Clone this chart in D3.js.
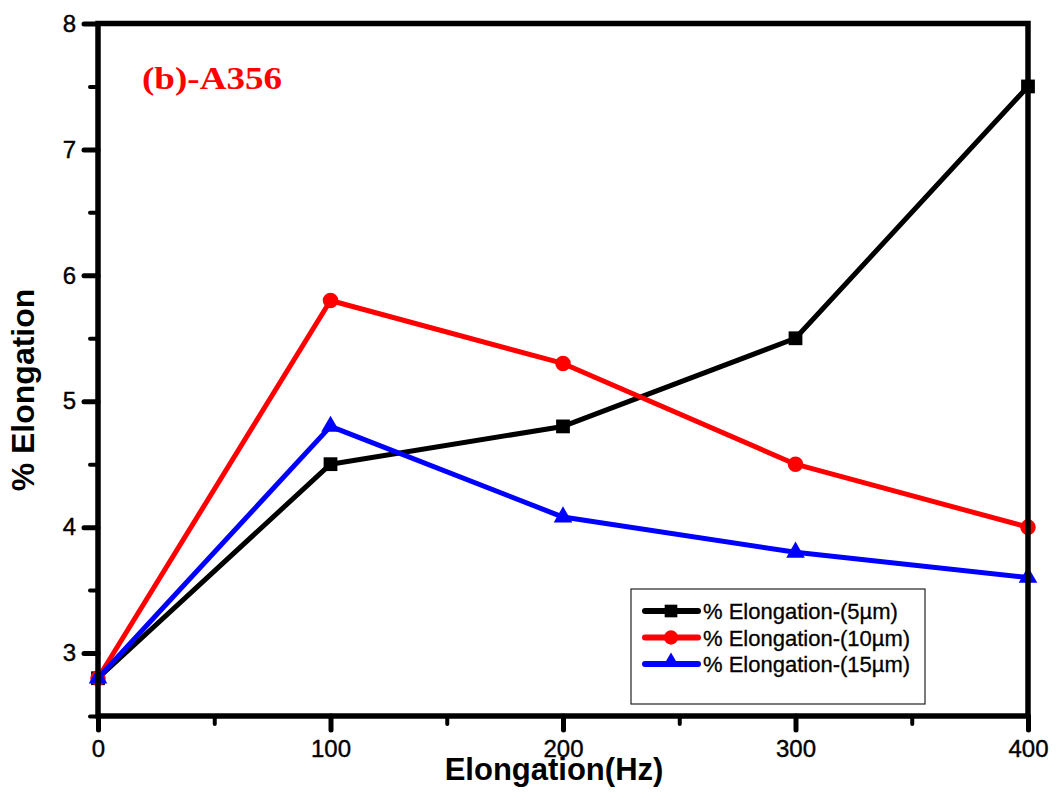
<!DOCTYPE html>
<html>
<head>
<meta charset="utf-8">
<script src="https://cdn.jsdelivr.net/npm/d3@7"></script>
<style>
  body { margin: 0; background: #fff; }
  svg { display: block; }
</style>
</head>
<body>
<div id="chart"></div>
<script>
// data
var freq = [0, 100, 200, 300, 400];
var elong5 = [2.8, 4.5, 4.8, 5.5, 7.5];
var elong10 = [2.8, 5.8, 5.3, 4.5, 4.0];
var elong15 = [2.8, 4.8, 4.08, 3.8, 3.6];
var seriesNames = ["% Elongation-(5\u00b5m)", "% Elongation-(10\u00b5m)", "% Elongation-(15\u00b5m)"];
var seriesColors = ["#000000", "#ff0000", "#0000ff"];
var seriesShapes = [d3.symbolSquare, d3.symbolCircle, d3.symbolTriangle];
var xTicks = [0, 100, 200, 300, 400];
var xMinor = [50, 150, 250, 350];
var yTicks = [3, 4, 5, 6, 7, 8];
var yMinor = [2.5, 3.5, 4.5, 5.5, 6.5, 7.5];

var width = 1056, height = 792;
var plotLeft = 98, plotRight = 1028, plotTop = 23.5, plotBottom = 716;

var svg = d3.select("#chart")
    .append("svg")
    .attr("width", width)
    .attr("height", height);

var x = d3.scaleLinear().domain([0, 400]).range([plotLeft, plotRight]);
var y = d3.scaleLinear().domain([2.5, 8]).range([plotBottom, plotTop]);

var series = [elong5, elong10, elong15];

var line = d3.line()
    .x(function (d, i) { return x(freq[i]); })
    .y(function (d) { return y(d); });

// lines and markers
series.forEach(function (s, k) {
    svg.append("path")
        .datum(s)
        .attr("d", line)
        .attr("fill", "none")
        .attr("stroke", seriesColors[k])
        .attr("stroke-width", 5)
        .attr("stroke-linejoin", "round");

    svg.selectAll(".m" + k)
        .data(s)
        .enter()
        .append("path")
        .attr("class", "m" + k)
        .attr("transform", function (d, i) { return "translate(" + x(freq[i]) + "," + y(d) + ")"; })
        .attr("d", d3.symbol().type(seriesShapes[k]).size(k == 2 ? 150 : 190))
        .attr("fill", seriesColors[k]);
});

// axes
function styleAxis(g, w) {
    g.select(".domain").remove();
    g.selectAll(".tick line")
        .attr("stroke", "#000")
        .attr("stroke-width", w)
        .attr("stroke-linecap", "round");
    g.selectAll(".tick text")
        .attr("fill", "#000")
        .attr("stroke", "#000")
        .attr("stroke-width", 0.4)
        .style("font-family", "Arial, 'Liberation Sans', sans-serif")
        .style("font-size", "24px");
}

svg.append("g")
    .attr("transform", "translate(0," + plotBottom + ")")
    .call(d3.axisBottom(x).tickValues(xMinor).tickSize(8).tickFormat(""))
    .call(styleAxis, 4);

svg.append("g")
    .attr("transform", "translate(0," + plotBottom + ")")
    .call(d3.axisBottom(x).tickValues(xTicks).tickSize(14).tickPadding(10).tickFormat(d3.format("d")))
    .call(styleAxis, 5);

svg.append("g")
    .attr("transform", "translate(" + plotLeft + ",0)")
    .call(d3.axisLeft(y).tickValues(yMinor).tickSize(8).tickFormat(""))
    .call(styleAxis, 4);

svg.append("g")
    .attr("transform", "translate(" + plotLeft + ",0)")
    .call(d3.axisLeft(y).tickValues(yTicks).tickSize(14).tickPadding(8).tickFormat(d3.format("d")))
    .call(styleAxis, 5);

// frame
svg.append("rect")
    .attr("x", plotLeft)
    .attr("y", plotTop)
    .attr("width", plotRight - plotLeft)
    .attr("height", plotBottom - plotTop)
    .attr("fill", "none")
    .attr("stroke", "#000")
    .attr("stroke-width", 5.5);

// axis titles
svg.append("text")
    .attr("x", 554)
    .attr("y", 780)
    .attr("text-anchor", "middle")
    .style("font-family", "Arial, 'Liberation Sans', sans-serif")
    .style("font-weight", "bold")
    .style("font-size", "31px")
    .text("Elongation(Hz)");

svg.append("text")
    .attr("transform", "translate(34,390) rotate(-90)")
    .attr("text-anchor", "middle")
    .style("font-family", "Arial, 'Liberation Sans', sans-serif")
    .style("font-weight", "bold")
    .style("font-size", "32px")
    .text("% Elongation");

// panel label
svg.append("text")
    .attr("x", 142)
    .attr("y", 89)
    .attr("fill", "#ff0000")
    .attr("textLength", 140)
    .attr("lengthAdjust", "spacingAndGlyphs")
    .style("font-family", "'Liberation Serif', 'Times New Roman', serif")
    .style("font-weight", "bold")
    .style("font-size", "32px")
    .text("(b)-A356");

// legend
var legend = svg.append("g");
legend.append("rect")
    .attr("x", 631)
    .attr("y", 589)
    .attr("width", 294)
    .attr("height", 115)
    .attr("fill", "#fff")
    .attr("stroke", "#222")
    .attr("stroke-width", 1.2);

seriesNames.forEach(function (name, k) {
    var ly = 611 + k * 26.5;
    legend.append("line")
        .attr("x1", 645).attr("x2", 698)
        .attr("y1", ly).attr("y2", ly)
        .attr("stroke", seriesColors[k])
        .attr("stroke-width", 6)
        .attr("stroke-linecap", "round");
    legend.append("path")
        .attr("transform", "translate(671," + (k == 2 ? ly - 2 : ly) + ")")
        .attr("d", d3.symbol().type(seriesShapes[k]).size(k == 2 ? 120 : 160))
        .attr("fill", seriesColors[k]);
    legend.append("text")
        .attr("x", 703)
        .attr("y", ly + 8)
        .attr("stroke", "#000")
        .attr("stroke-width", 0.3)
        .style("font-family", "Arial, 'Liberation Sans', sans-serif")
        .style("font-size", "22px")
        .text(name);
});
</script>
</body>
</html>
